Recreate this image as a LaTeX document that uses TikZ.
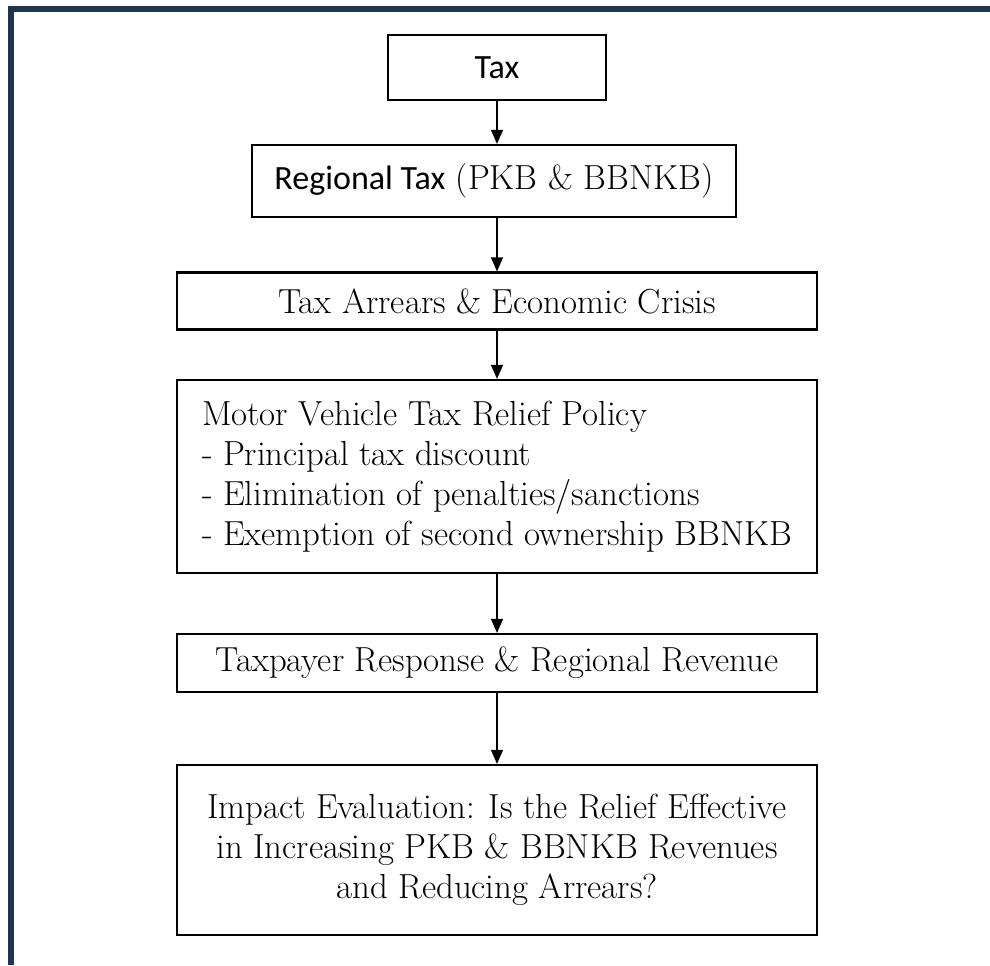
\documentclass[tikz,border=0pt]{standalone}
\usepackage{fontspec}
\newfontfamily\carlito{Carlito}
\usetikzlibrary{arrows.meta, positioning}
\definecolor{framenavy}{HTML}{1F3550}

\begin{document}
\begin{tikzpicture}[
    x=0.5pt,
    y=-0.5pt,
    >={Triangle[width=6pt,length=7pt]},
    box/.style={draw, line width=1.1pt, inner sep=0pt, minimum width=320pt,
        align=center, font=\fontsize{17.4}{20}\selectfont},
    flow/.style={->, line width=0.6pt}
]
    \useasboundingbox (0,0) rectangle (990,965);
    % outer frame (left and top only)
    \draw[framenavy, line width=3pt] (11,965) -- (11,9) -- (990,9);

    \node[box, minimum width=109pt, minimum height=32.5pt,
          font=\carlito\fontsize{17}{20}\selectfont] (tax) at (497,67.5) {Tax};
    \node[box, minimum width=242pt, minimum height=36pt] (regional) at (494,181)
        {{\carlito\fontsize{17}{20}\selectfont Regional Tax} (PKB \& BBNKB)};
    \node[box, minimum height=28.5pt] (arrears) at (497,301)
        {Tax Arrears \& Economic Crisis};
    \node[box, minimum height=96.5pt, align=left] (relief) at (497,476.5)
        {Motor Vehicle Tax Relief Policy\\
         - Principal tax discount\\
         - Elimination of penalties/sanctions\\
         - Exemption of second ownership BBNKB};
    \node[box, minimum height=29pt] (response) at (497,663)
        {Taxpayer Response \& Regional Revenue};
    \node[box, minimum height=85pt] (impact) at (497,850)
        {Impact Evaluation: Is the Relief Effective\\
         in Increasing PKB \& BBNKB Revenues\\
         and Reducing Arrears?};

    \draw[flow] (tax.south) -- (tax.south |- regional.north);
    \draw[flow] (regional.south -| tax.south) -- (tax.south |- arrears.north);
    \draw[flow] (arrears) -- (relief);
    \draw[flow] (relief) -- (response);
    \draw[flow] (response) -- (impact);
\end{tikzpicture}
\end{document}
